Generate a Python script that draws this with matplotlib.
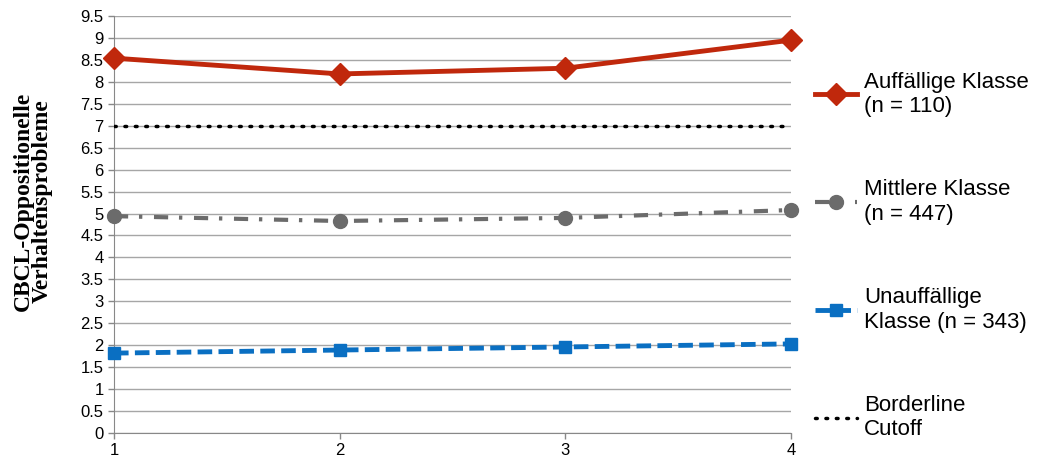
import matplotlib
matplotlib.use("Agg")
import matplotlib.pyplot as plt

# Data
messzeitpunkte = [1, 2, 3, 4]
auffaellig = [8.54, 8.18, 8.31, 8.95]
mittlere = [4.94, 4.83, 4.90, 5.08]
unauffaellig = [1.82, 1.89, 1.96, 2.03]
cutoff = 7.0

labels = ["Auffällige Klasse\n(n = 110)", "Mittlere Klasse\n(n = 447)",
          "Unauffällige\nKlasse (n = 343)", "Borderline\nCutoff"]
y_ticks = [i * 0.5 for i in range(20)]
y_ticklabels = ["0", "0.5", "1", "1.5", "2", "2.5", "3", "3.5", "4", "4.5",
                "5", "5.5", "6", "6.5", "7", "7.5", "8", "8.5", "9", "9.5"]

plt.rcParams['font.family'] = ['Liberation Sans', 'DejaVu Sans']

fig = plt.figure(figsize=(10.42, 4.61), dpi=100)
ax = fig.add_axes([114 / 1042, (461 - 433) / 461, (791 - 114) / 1042, (433 - 16) / 461])

l1, = ax.plot(messzeitpunkte, auffaellig, color='#c0280c', lw=3.5, marker='D',
              markersize=11, clip_on=False, zorder=5)
l2, = ax.plot(messzeitpunkte, mittlere, color='#6b6b6b', lw=3, marker='o',
              markersize=10, dashes=(3.4, 2.6, 0.8, 2.8), clip_on=False, zorder=5)
l3, = ax.plot(messzeitpunkte, unauffaellig, color='#0a6fc2', lw=3.5, marker='s',
              markersize=9, dashes=(3, 1.3), clip_on=False, zorder=5)
l4 = ax.axhline(cutoff, color='black', lw=2.5, linestyle=(0, (0.5, 2.5)),
                dash_capstyle='round', zorder=4)

ax.set_xlim(1, 4)
ax.set_ylim(0, 9.5)
ax.set_xticks(messzeitpunkte)
ax.set_yticks(y_ticks)
ax.set_yticklabels(y_ticklabels)
ax.tick_params(axis='both', labelsize=12, color='#888888', length=4, width=1)
ax.grid(axis='y', color='#a6a6a6', lw=1)
ax.set_axisbelow(True)
for s in ['top', 'right']:
    ax.spines[s].set_visible(False)
for s in ['left', 'bottom']:
    ax.spines[s].set_color('#888888')

fig.text(33 / 1042, 1 - 201 / 461, "CBCL-Oppositionelle\nVerhaltensprobleme",
         family=['Liberation Serif'], fontweight='bold', fontsize=17,
         linespacing=0.85, rotation=90, ha='center', va='center', multialignment='center')

fig.legend([l1, l2, l3, l4], labels, loc='center left', bbox_to_anchor=(815 / 1042, 1 - 256 / 461),
           frameon=False, fontsize=16, labelspacing=2.82, handlelength=1.9,
           handletextpad=0.3, borderpad=0, borderaxespad=0)

fig.savefig("out.png", dpi=100)
